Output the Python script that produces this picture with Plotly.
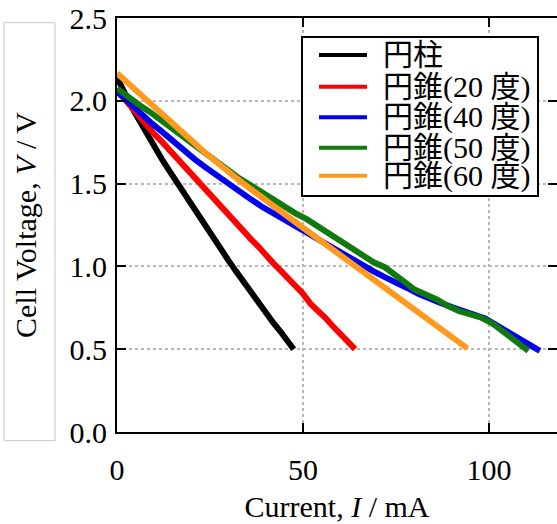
import plotly.graph_objects as go

# ---- data ----
names = ['円柱', '円錐(20 度)', '円錐(40 度)', '円錐(50 度)', '円錐(60 度)']
colors = ['#000000', '#ff0000', '#0000ee', '#107a10', '#ff9a1f']

I_cyl = [0, 1, 2, 3, 4, 5, 6, 7, 8, 9, 10, 12, 14, 16, 18, 20, 22, 24, 26, 28, 30, 32, 34, 36, 38, 40, 42, 44, 46, 47.5]
V_cyl = [2.14, 2.09, 2.04, 2.00, 1.96, 1.92, 1.88, 1.84, 1.80, 1.76, 1.72, 1.65, 1.58, 1.51, 1.44, 1.37, 1.30, 1.235, 1.17,
         1.10, 1.035, 0.97, 0.905, 0.84, 0.78, 0.72, 0.66, 0.605, 0.55, 0.50]

I_c20 = [0, 2, 4, 6, 8, 10, 12, 14, 16, 18, 20, 22, 24, 26, 28, 30, 32, 34, 36, 38, 40, 42, 44, 46, 48, 50, 52, 54, 56, 58, 60, 62, 64]
V_c20 = [2.065, 2.01, 1.955, 1.905, 1.855, 1.80, 1.755, 1.705, 1.655, 1.61, 1.555, 1.51, 1.46, 1.415, 1.36, 1.31, 1.265,
         1.215, 1.165, 1.12, 1.065, 1.02, 0.975, 0.93, 0.875, 0.835, 0.775, 0.735, 0.69, 0.64, 0.595, 0.545, 0.50]

I_c40 = [0, 3, 6, 9, 12, 15, 18, 21, 24, 27, 30, 33, 36, 39, 42, 45, 48, 51, 54, 57, 60, 63, 66, 69, 72, 75, 78, 81, 84, 87,
         90, 93, 96, 99, 102, 105, 108, 111, 113.7]
V_c40 = [2.055, 1.99, 1.93, 1.87, 1.815, 1.755, 1.70, 1.645, 1.595, 1.545, 1.50, 1.45, 1.405, 1.36, 1.32, 1.285, 1.25, 1.21,
         1.17, 1.125, 1.085, 1.045, 1.005, 0.97, 0.935, 0.905, 0.87, 0.835, 0.805, 0.78, 0.755, 0.73, 0.71, 0.685, 0.645,
         0.605, 0.565, 0.525, 0.49]

I_c50 = [0, 3, 6, 9, 12, 15, 18, 21, 24, 27, 30, 33, 36, 39, 42, 45, 48, 51, 54, 57, 60, 63, 66, 69, 72, 74, 76, 78, 80, 83,
         86, 89, 92, 95, 98, 101, 104, 106, 108, 110.6]
V_c50 = [2.075, 2.02, 1.975, 1.93, 1.88, 1.83, 1.775, 1.725, 1.675, 1.625, 1.58, 1.53, 1.49, 1.445, 1.40, 1.36, 1.32, 1.285,
         1.24, 1.195, 1.15, 1.105, 1.06, 1.025, 0.995, 0.965, 0.925, 0.895, 0.86, 0.83, 0.80, 0.76, 0.73, 0.71, 0.69, 0.655,
         0.605, 0.57, 0.53, 0.49]

I_c60 = [0, 2, 4, 6, 8, 10, 12, 14, 16, 18, 20, 22, 24, 26, 28, 30, 32, 34, 36, 38, 40, 43, 46, 49, 52, 55, 58, 61, 64, 67,
         70, 73, 76, 79, 82, 85, 88, 91, 94.2]
V_c60 = [2.166, 2.125, 2.08, 2.04, 2.00, 1.96, 1.92, 1.88, 1.84, 1.80, 1.76, 1.72, 1.68, 1.645, 1.605, 1.57, 1.535, 1.50,
         1.465, 1.43, 1.40, 1.35, 1.30, 1.25, 1.20, 1.15, 1.10, 1.05, 1.00, 0.95, 0.90, 0.85, 0.80, 0.75, 0.70, 0.65, 0.60,
         0.55, 0.505]

x_ticks = [0, 50, 100]
y_ticks = [0.0, 0.5, 1.0, 1.5, 2.0, 2.5]
y_tick_text = ['0.0', '0.5', '1.0', '1.5', '2.0', '2.5']

series_x = [I_cyl, I_c20, I_c40, I_c50, I_c60]
series_y = [V_cyl, V_c20, V_c40, V_c50, V_c60]

FONT = "'Liberation Serif', 'Noto Sans CJK JP', serif"
W, H = 557, 524
L, R, T, B = 117, 0, 18, 92
PW, PH = W - L - R, H - T - B


def px(xp):
    return (xp - L) / PW


def py(yp):
    return (H - B - yp) / PH


fig = go.Figure()
for n, xs, ys, c in zip(names, series_x, series_y, colors):
    fig.add_trace(go.Scatter(x=xs, y=ys, mode='lines', name=n, showlegend=False,
                             line=dict(color=c, width=6)))

axis_common = dict(ticks='inside', ticklen=9, tickwidth=2, tickcolor='black', automargin=False,
                   showline=True, linewidth=2, linecolor='black', mirror='ticks',
                   showgrid=True, gridcolor='#b8b8b8', griddash='dot', gridwidth=1.5,
                   zeroline=False, tickfont=dict(family=FONT, size=30, color='black'))

fig.update_xaxes(range=[0, 118.3], tickvals=x_ticks, ticklabelstandoff=10,
                 title=dict(text='Current, <i>I</i> / mA', font=dict(family=FONT, size=30), standoff=11),
                 **axis_common)
fig.update_yaxes(range=[0, 2.5], tickvals=y_ticks, ticktext=y_tick_text, ticklabelstandoff=2,
                 title=dict(text='Cell Voltage, <i>V</i> / V', font=dict(family=FONT, size=30), standoff=24),
                 **axis_common)

shapes = []
annotations = []
# box around y-axis title
shapes.append(dict(type='rect', xref='paper', yref='paper', x0=px(4), x1=px(55), y0=py(440.7), y1=py(22.7),
                   line=dict(color='#c8c8c8', width=1), fillcolor='rgba(0,0,0,0)', layer='above'))
# legend box
shapes.append(dict(type='rect', xref='paper', yref='paper', x0=px(302), x1=px(538), y0=py(196), y1=py(37),
                   line=dict(color='black', width=2), fillcolor='white', layer='above'))
legend_rows = [55, 86.7, 117.3, 147.7, 175.7]
for n, c, yr in zip(names, colors, legend_rows):
    shapes.append(dict(type='line', xref='paper', yref='paper', x0=px(319), x1=px(367), y0=py(yr), y1=py(yr),
                       line=dict(color=c, width=4), layer='above'))
    annotations.append(dict(text=n, xref='paper', yref='paper', x=px(381), y=py(yr), xanchor='left',
                            yanchor='middle', showarrow=False, font=dict(family=FONT, size=30, color='black')))

fig.update_layout(width=W, height=H, margin=dict(l=L, r=R, t=T, b=B, autoexpand=False),
                  plot_bgcolor='white', paper_bgcolor='white',
                  font=dict(family=FONT, size=30, color='black'),
                  shapes=shapes, annotations=annotations)

fig.write_html("out.html", config={'displayModeBar': False},
               post_script="document.body.style.margin='0px';document.body.style.padding='0px';"
                           "document.body.style.overflow='hidden';")
